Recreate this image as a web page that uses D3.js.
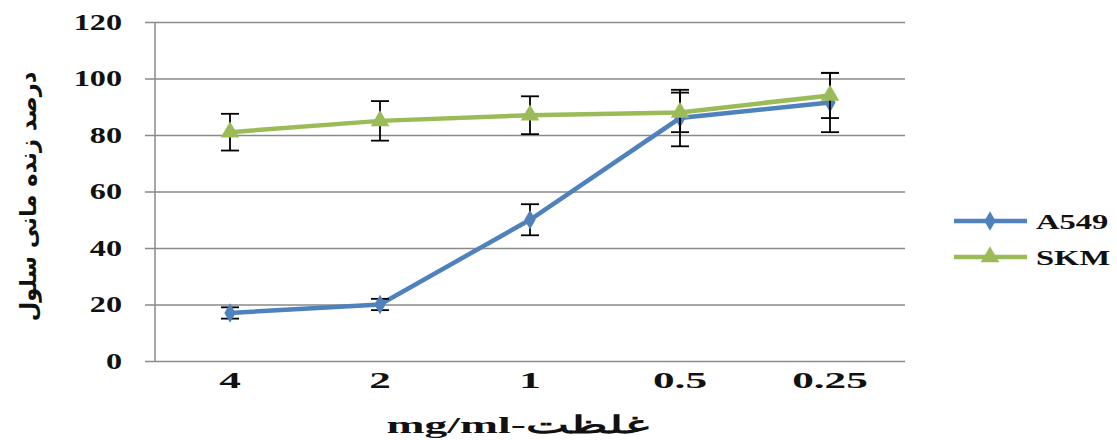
<!DOCTYPE html>
<html>
<head>
<meta charset="utf-8">
<script src="https://cdn.jsdelivr.net/npm/d3@7"></script>
<style>
  body { margin: 0; background: #fff; }
  text { font-family: "Liberation Serif", "DejaVu Serif", serif; font-weight: bold; }
</style>
</head>
<body>
<div id="chart"></div>
<script>
const WIDTH = 1117;
const HEIGHT = 440;

// data
const categories = ['4', '2', '1', '0.5', '0.25'];
const a549 = [17, 20, 50, 86, 91.5];
const a549Err = [2, 2, 5.5, 10, 10.5];
const skm = [81, 85, 87, 88, 94];
const skmErr = [6.5, 7, 6.7, 7, 8];
const yTicks = [0, 20, 40, 60, 80, 100, 120];

const series = [
    { name: 'A549', values: a549, err: a549Err, color: '#4F81BD', marker: 'diamond' },
    { name: 'SKM', values: skm, err: skmErr, color: '#9BBB59', marker: 'triangle' }
];

const margin = { left: 155, right: 212, top: 22, bottom: 79 };

const svg = d3.select('#chart')
    .append('svg')
    .attr('width', WIDTH)
    .attr('height', HEIGHT);

// the source picture is stretched sideways, so widen the glyphs to match
function stretch(sel, f) {
    sel.each(function() {
        const w = this.getComputedTextLength();
        d3.select(this)
            .attr('textLength', w * f)
            .attr('lengthAdjust', 'spacingAndGlyphs');
    });
}

const x = d3.scaleBand()
    .domain(categories)
    .range([margin.left, WIDTH - margin.right]);

const y = d3.scaleLinear()
    .domain([0, 120])
    .range([HEIGHT - margin.bottom, margin.top]);

// gridlines + y tick labels
const yAxis = svg.append('g')
    .attr('transform', `translate(${margin.left},0)`)
    .call(d3.axisLeft(y).tickValues(yTicks).tickSize(-(WIDTH - margin.right - margin.left)).tickSizeOuter(0).tickPadding(33));
yAxis.select('.domain').remove();
yAxis.selectAll('.tick line')
    .attr('x1', -10)
    .attr('stroke', '#8a8a8a')
    .attr('stroke-width', 1.5);
yAxis.selectAll('.tick text')
    .attr('fill', '#111')
    .style('font-size', '23px')
    .call(stretch, 1.4);

// vertical axis line
svg.append('line')
    .attr('x1', margin.left).attr('x2', margin.left)
    .attr('y1', y(120)).attr('y2', y(0))
    .attr('stroke', '#8a8a8a')
    .attr('stroke-width', 1.5);

// x tick labels
const xAxis = svg.append('g')
    .attr('transform', `translate(0,${y(0)})`)
    .call(d3.axisBottom(x).tickSize(0).tickPadding(10));
xAxis.select('.domain').remove();
xAxis.selectAll('.tick text')
    .attr('fill', '#111')
    .style('font-size', '24px')
    .call(stretch, 1.8);

const cx = d => x(d) + x.bandwidth() / 2;

const line = d3.line()
    .x((d, i) => cx(categories[i]))
    .y(d => y(d));

const symbolFor = m => m === 'diamond'
    ? d3.symbol().type(d3.symbolDiamond).size(110)
    : d3.symbol().type(d3.symbolTriangle).size(150);

series.forEach(s => {
    const g = svg.append('g').attr('class', 'series');

    g.append('path')
        .datum(s.values)
        .attr('d', line)
        .attr('fill', 'none')
        .attr('stroke', s.color)
        .attr('stroke-width', 4.5);

    // error bars
    const eb = g.selectAll('g.err')
        .data(s.values)
        .enter().append('g')
        .attr('class', 'err');
    eb.append('line')
        .attr('x1', (d, i) => cx(categories[i]))
        .attr('x2', (d, i) => cx(categories[i]))
        .attr('y1', (d, i) => y(d + s.err[i]))
        .attr('y2', (d, i) => y(d - s.err[i]))
        .attr('stroke', '#000')
        .attr('stroke-width', 1.8);
    [1, -1].forEach(sign => {
        eb.append('line')
            .attr('x1', (d, i) => cx(categories[i]) - 9)
            .attr('x2', (d, i) => cx(categories[i]) + 9)
            .attr('y1', (d, i) => y(d + sign * s.err[i]))
            .attr('y2', (d, i) => y(d + sign * s.err[i]))
            .attr('stroke', '#000')
            .attr('stroke-width', 1.8);
    });

    g.selectAll('path.marker')
        .data(s.values)
        .enter().append('path')
        .attr('class', 'marker')
        .attr('d', symbolFor(s.marker))
        .attr('transform', (d, i) => `translate(${cx(categories[i])},${y(d)})`)
        .attr('fill', s.color);
});

// legend
const legend = svg.append('g')
    .selectAll('g')
    .data(series)
    .enter().append('g')
    .attr('transform', (d, i) => `translate(954,${221 + i * 36})`);
legend.append('line')
    .attr('x1', 0).attr('x2', 73)
    .attr('stroke', d => d.color)
    .attr('stroke-width', 4.5);
legend.append('path')
    .attr('d', d => symbolFor(d.marker)())
    .attr('transform', 'translate(36,0)')
    .attr('fill', d => d.color);
legend.append('text')
    .attr('x', 82)
    .attr('dy', '0.35em')
    .attr('fill', '#111')
    .style('font-size', '22px')
    .text(d => d.name)
    .call(stretch, 1.48);

// axis titles
svg.append('text')
    .attr('transform', `translate(36,${(y(0) + y(120)) / 2 + 5}) rotate(-90)`)
    .attr('text-anchor', 'middle')
    .style('font-family', '"DejaVu Sans", sans-serif')
    .style('font-size', '23px')
    .attr('fill', '#111')
    .text('درصد زنده مانی سلول')
    .call(stretch, 0.98);

svg.append('text')
    .attr('x', 518)
    .attr('y', 433)
    .attr('text-anchor', 'middle')
    .attr('fill', '#111')
    .style('font-size', '24px')
    .text('mg/ml-غلظت')
    .call(stretch, 1.9);
</script>
</body>
</html>
